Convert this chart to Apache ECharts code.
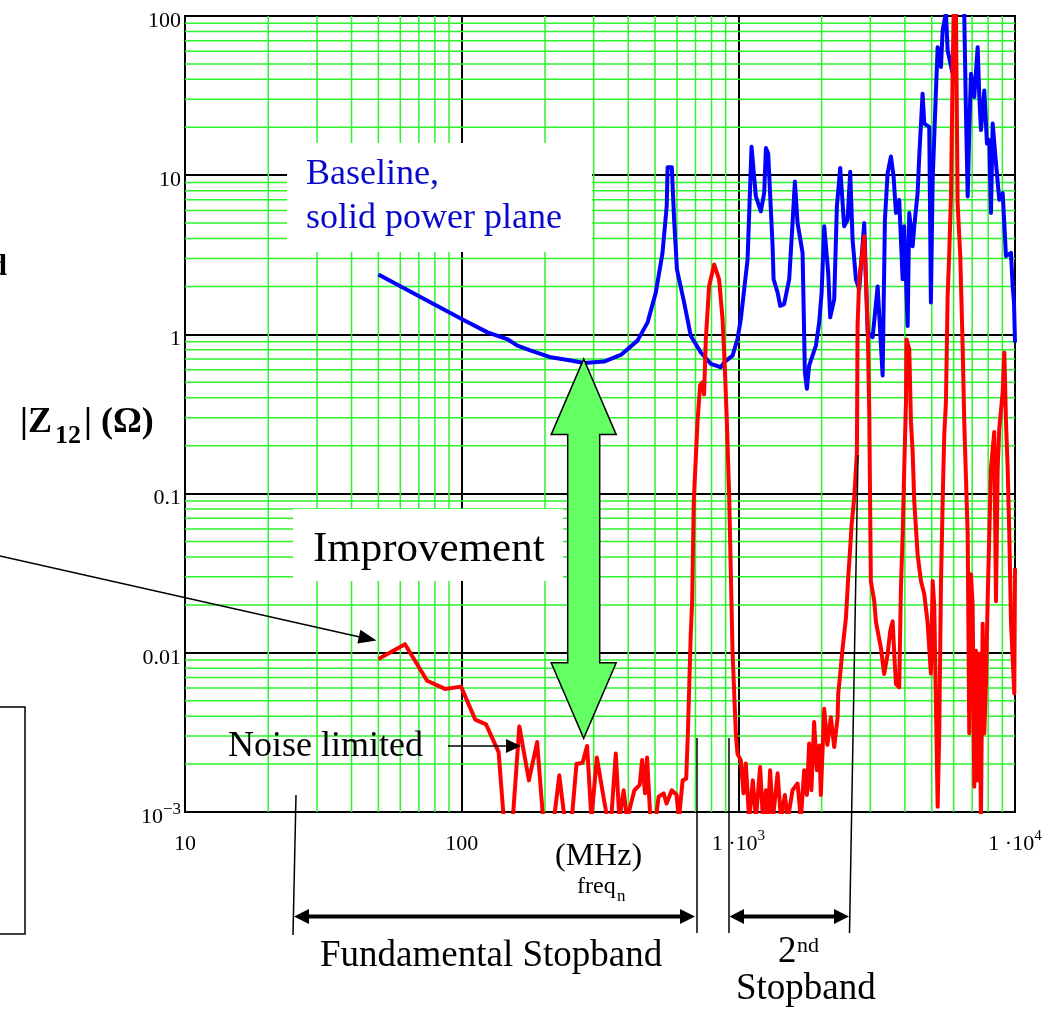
<!DOCTYPE html>
<html><head><meta charset="utf-8">
<script src="https://cdn.jsdelivr.net/npm/echarts@6/dist/echarts.min.js"></script>
<style>html,body{margin:0;padding:0;background:#fff}#c{width:1057px;height:1013px}</style>
</head><body><div id="c"></div>
<script>
// ---------- DATA ----------
const xTickValues = [10, 100, 1000, 10000];
const xTickLabels = ['10', '100', '1 ·10^3', '1 ·10^4'];
const yTickValues = [0.001, 0.01, 0.1, 1, 10, 100];
const yTickLabels = ['10^−3', '0.01', '0.1', '1', '10', '100'];
const minorMultipliers = [2, 3, 4, 5, 6, 7, 8, 9];

// Baseline, solid power plane (blue)
const blueFreq = [50,100,124,146,159,178,210,248,277,327,376,432,470,503,532,551,555,575,586,600,637,673,731,796,865,889,953,993,1021,1080,1116,1157,1206,1240,1258,1282,1330,1341,1387,1417,1464,1527,1570,1601,1637,1707,1740,1769,1803,1907,1960,2000,2044,2113,2148,2221,2271,2335,2413,2483,2537,2588,2661,2735,2851,2934,3058,3188,3323,3387,3464,3560,3641,3712,3815,3925,3977,4093,4147,4266,4324,4446,4507,4634,4700,4898,4966,5040,5180,5254,5400,5476,5628,5709,5952,6118,6486,6555,6650,6745,6834,6932,7125,7330,7430,7534,7745,7920,8072,8188,8304,8537,8774,9026,9278,9672,9808,9917,10000];
const blueZ = [2.38,1.25,1.03,0.935,0.85,0.79,0.718,0.685,0.662,0.675,0.743,0.914,1.19,1.83,3.25,6.4,11.2,11.2,5.26,2.56,1.585,0.98,0.772,0.652,0.622,0.668,0.736,0.935,1.25,2.96,15.1,7.36,5.93,7.72,14.8,13.7,3.58,2.22,1.83,1.51,1.55,2.22,5.0,9.13,5.0,3.25,0.579,0.455,0.637,0.85,1.19,1.83,4.78,2.44,1.28,1.66,6.37,11.1,4.78,5.26,10.5,3.94,2.22,1.92,5.0,1.03,0.96,2.0,0.552,5.26,10.3,13.1,9.8,5.79,7.0,2.22,4.78,1.13,5.79,3.58,4.78,7.72,13.1,32.5,21.1,20.1,1.585,9.36,34.1,63.7,47.8,81,105,60.7,43.4,110,110,103,24.4,7.36,19.2,43.4,31.0,63.7,31,19.2,34.1,15.8,16.6,5.79,21.1,11.9,7.0,7.72,3.1,3.25,2.01,1.585,0.89];

// EBG structure (red)
const redFreq = [50,62.4,75,87,99.5,112,122.5,136,142,153,161.6,175,187.4,197,215.6,225.4,235.6,250,260,273.5,284,294.4,308,327,336.5,347,360.6,371.5,385,396,421,440,449,460,468,481,503,515,537,550,575,598,610,629,648,657,673,681,690,712,721.6,727.8,742.5,752,763,784,817.6,852,877,894,909,926.4,952.7,979.5,993,1021,1044,1064,1094,1128,1157,1199,1227,1258,1279,1303,1333,1387,1425,1473,1510,1570,1637,1683,1730,1769,1803,1837,1879,1923,1963,1987,2043,2098,2160,2221,2285,2296,2335,2383,2449,2495,2537,2567,2623,2683,2698,2735,2851,2934,2973,3013,3099,3144,3274,3366,3464,3540,3612,3661,3713,3815,3870,3926,3978,4036,4053,4148,4207,4266,4324,4446,4571,4699,4830,4966,5040,5106,5254,5323,5400,5476,5550,5628,5709,5786,5870,5952,6002,6118,6203,6340,6467,6555,6745,6834,6932,7030,7125,7228,7330,7430,7534,7640,7745,7852,7964,8072,8188,8414,8537,8658,8774,9026,9150,9278,9410,9537,9672,9942,10000];
const redZ = [0.00914,0.01133,0.00668,0.00593,0.00613,0.0038,0.00355,0.00238,0.0009,0.0009,0.00345,0.00158,0.00275,0.0009,0.0009,0.0017,0.0009,0.0009,0.002,0.00204,0.0026,0.0009,0.0022,0.00119,0.0009,0.0009,0.00233,0.0009,0.00137,0.0009,0.00137,0.00148,0.00212,0.00131,0.0022,0.0009,0.0009,0.00125,0.00131,0.00113,0.00137,0.00128,0.0009,0.00158,0.00162,0.0031,0.0131,0.0211,0.089,0.282,0.394,0.48,0.50,0.42,0.935,2.01,2.75,2.22,1.25,0.607,0.282,0.098,0.0103,0.0031,0.00233,0.00211,0.00131,0.00202,0.0009,0.00158,0.0009,0.00192,0.0009,0.00137,0.0009,0.00183,0.0009,0.00175,0.0009,0.00128,0.0009,0.00137,0.00151,0.0009,0.00183,0.00128,0.00269,0.00137,0.00367,0.00183,0.00262,0.00128,0.00445,0.00264,0.00394,0.00256,0.00394,0.00552,0.00736,0.0108,0.0166,0.0296,0.0455,0.0637,0.0935,0.183,1.14,2.22,4.14,1.14,0.325,0.0282,0.0211,0.0156,0.0108,0.00736,0.0098,0.0137,0.0158,0.0098,0.00637,0.00607,0.0256,0.0552,0.144,0.376,0.93,0.81,0.282,0.183,0.089,0.0416,0.0282,0.0234,0.0156,0.0074,0.0282,0.0198,0.00108,0.00312,0.027,0.089,0.234,0.376,1.75,3.25,7.4,45.5,105,105,6.68,3.12,0.853,0.282,0.0554,0.00312,0.0312,0.0198,0.00144,0.0103,0.00158,0.00986,0.0009,0.0152,0.00312,0.0064,0.0211,0.0554,0.144,0.244,0.0211,0.144,0.256,0.434,0.77,0.282,0.144,0.0554,0.0156,0.00555,0.034];

// ---------- BUILD ----------
const SERIF = '"Liberation Serif", "Times New Roman", serif';
function pairs(xs, ys) { const n = Math.min(xs.length, ys.length); const out = []; for (let i = 0; i < n; i++) out.push([xs[i], ys[i]]); return out; }
function nearestIndex(vals, v) { let best = 0, bd = Infinity; vals.forEach((t, i) => { const d = Math.abs(Math.log10(t) - Math.log10(v)); if (d < bd) { bd = d; best = i; } }); return best; }
function toRich(lbl) { const p = lbl.split('^'); return p.length > 1 ? '{b|' + p[0] + '}{sup|' + p[1] + '}' : '{b|' + p[0] + '}'; }
function minorValues(ticks) { const out = []; for (let i = 0; i < ticks.length - 1; i++) minorMultipliers.forEach(m => out.push(+(ticks[i] * m).toPrecision(6))); return out; }

const GREEN = '#2cf42c';
const chart = echarts.init(document.getElementById('c'), null, { renderer: 'canvas' });

function T(text, x, y, size, opts) {
  opts = opts || {};
  return { type: 'text', z: 60, silent: true, style: {
    text: text, x: x, y: y, fill: opts.fill || '#000',
    font: (opts.weight || 'normal') + ' ' + size + 'px ' + SERIF,
    align: opts.align || 'left', verticalAlign: 'middle',
    textAlign: opts.align || 'left', textVerticalAlign: 'middle'
  } };
}
function L(pts, w) { return { type: 'polyline', z: 55, silent: true, shape: { points: pts }, style: { stroke: '#000', lineWidth: w || 1.5, fill: null } }; }
function P(pts, fill, stroke) { return { type: 'polygon', z: 56, silent: true, shape: { points: pts }, style: { fill: fill || '#000', stroke: stroke || null, lineWidth: stroke ? 1.5 : 0 } }; }

const gx = 583.7;
const graphics = [
  { type: 'rect', z: 50, silent: true, shape: { x: 287, y: 143, width: 305, height: 109 }, style: { fill: '#fff' } },
  { type: 'rect', z: 50, silent: true, shape: { x: 293, y: 509, width: 270, height: 72 }, style: { fill: '#fff' } },
  T('Baseline,', 306, 175, 36, { fill: '#0808cc' }),
  T('solid power plane', 306, 219, 36, { fill: '#0808cc' }),
  T('Improvement', 313, 550, 43),
  T('Noise limited', 228, 747, 36),
  P([[gx,359],[gx+32.5,434.6],[gx+16,434.6],[gx+16,662.7],[gx+32.5,662.7],[gx,738.3],[gx-32.5,662.7],[gx-16,662.7],[gx-16,434.6],[gx-32.5,434.6]], '#63ff63', '#000'),
  L([[448,746],[508,746]], 1.5),
  P([[521,746],[506,739],[506,753]]),
  L([[0,556],[362,637.4]], 1.5),
  P([[376.5,640.5],[357.4,643.4],[360.4,629.8]]),
  { type: 'rect', z: 50, silent: true, shape: { x: -10, y: 707, width: 35, height: 227 }, style: { fill: null, stroke: '#000', lineWidth: 1.5 } },
  T('d', 7, 267, 30, { weight: 'bold', align: 'right' }),
  T('|Z', 20, 423, 36, { weight: 'bold' }),
  T('12', 55, 436, 26, { weight: 'bold' }),
  T('| (Ω)', 84, 423, 36, { weight: 'bold' }),
  T('(MHz)', 555, 857, 32),
  T('freq', 577, 887, 24),
  T('n', 617, 897, 17),
  L([[296,795],[293,935]], 1.5),
  L([[697,738],[697,933]], 1.5),
  L([[729,738],[729,933]], 1.5),
  L([[858,455],[849.5,933]], 1.5),
  L([[306,916.5],[683,916.5]], 4),
  P([[294,916.5],[309,909],[309,924]]),
  P([[695,916.5],[680,909],[680,924]]),
  L([[741,916.5],[837,916.5]], 4),
  P([[729.5,916.5],[744,909],[744,924]]),
  P([[849,916.5],[834,909],[834,924]]),
  T('Fundamental Stopband', 320, 956, 37),
  T('2', 778, 952, 37),
  T('nd', 797, 946, 22),
  T('Stopband', 736, 989, 37)
];

function minorLineSeries(values, vertical) {
  return {
    type: 'custom', z: 1, silent: true, clip: false,
    data: values.map(v => vertical ? [v, 1] : [100, v]),
    renderItem: function (params, api) {
      const cs = params.coordSys;
      const p = api.coord([api.value(0), api.value(1)]);
      if (vertical) {
        return { type: 'line', shape: { x1: p[0], y1: cs.y, x2: p[0], y2: cs.y + cs.height }, style: { stroke: GREEN, lineWidth: 1.5 } };
      }
      return { type: 'line', shape: { x1: cs.x, y1: p[1], x2: cs.x + cs.width, y2: p[1] }, style: { stroke: GREEN, lineWidth: 1.5 } };
    }
  };
}

const option = {
  animation: false,
  backgroundColor: '#fff',
  grid: { left: 185, top: 12, width: 830, height: 800, show: true, borderColor: '#000', borderWidth: 2, backgroundColor: 'transparent' },
  xAxis: {
    type: 'log', logBase: 10, min: 10, max: 10000,
    axisLine: { show: true, lineStyle: { color: '#000', width: 2 } },
    axisTick: { show: false },
    splitLine: { show: true, lineStyle: { color: '#000', width: 2 } },
    axisLabel: {
      show: true, showMinLabel: true, showMaxLabel: true, margin: 17,
      formatter: v => toRich(xTickLabels[nearestIndex(xTickValues, v)]),
      rich: {
        b: { fontFamily: SERIF, fontSize: 22, color: '#000', lineHeight: 22, padding: [9, 0, 0, 0] },
        sup: { fontFamily: SERIF, fontSize: 15, color: '#000', lineHeight: 15, padding: [0, 0, 16, 0], verticalAlign: 'top' }
      }
    }
  },
  yAxis: {
    type: 'log', logBase: 10, min: 0.001, max: 100,
    axisLine: { show: true, lineStyle: { color: '#000', width: 2 } },
    axisTick: { show: false },
    splitLine: { show: true, lineStyle: { color: '#000', width: 2 } },
    axisLabel: {
      show: true, showMinLabel: true, showMaxLabel: true, margin: 4,
      formatter: v => toRich(yTickLabels[nearestIndex(yTickValues, v)]),
      rich: {
        b: { fontFamily: SERIF, fontSize: 22, color: '#000', lineHeight: 22, padding: [10, 0, 0, 0] },
        sup: { fontFamily: SERIF, fontSize: 17, color: '#000', lineHeight: 17, padding: [0, 0, 15, 0], verticalAlign: 'top' }
      }
    }
  },
  series: [
    minorLineSeries(minorValues(xTickValues), true),
    minorLineSeries(minorValues(yTickValues), false),
    {
      type: 'line', name: 'Baseline', z: 3, data: pairs(blueFreq, blueZ), symbol: 'none', clip: true,
      lineStyle: { color: '#0000ff', width: 4, join: 'round' }
    },
    {
      type: 'line', name: 'EBG', z: 4, data: pairs(redFreq, redZ), symbol: 'none', clip: true,
      lineStyle: { color: '#ff0000', width: 4, join: 'round' }
    }
  ],
  graphic: { elements: graphics }
};
chart.setOption(option);
</script>
</body></html>
